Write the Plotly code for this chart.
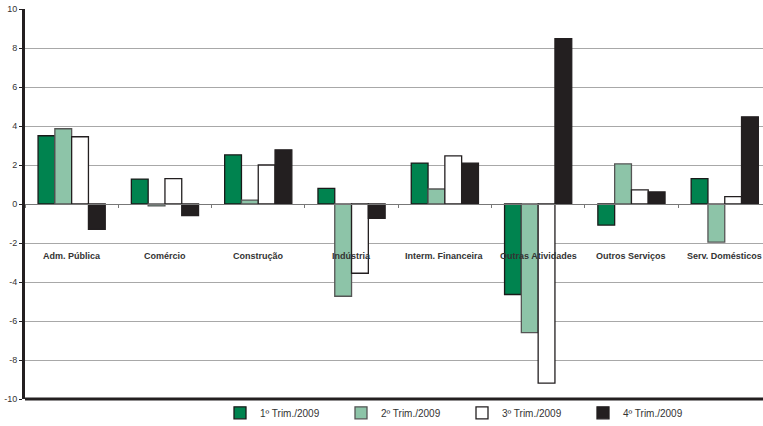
import plotly.graph_objects as go

categories = ["Adm. Pública", "Comércio", "Construção", "Indústria",
              "Interm. Financeira", "Outras Atividades", "Outros Serviços", "Serv. Domésticos"]
series_names = ["1º Trim./2009", "2º Trim./2009", "3º Trim./2009", "4º Trim./2009"]
q1 = [3.5, 1.28, 2.52, 0.8, 2.1, -4.64, -1.08, 1.3]
q2 = [3.86, -0.1, 0.2, -4.73, 0.77, -6.6, 2.06, -1.95]
q3 = [3.45, 1.3, 2.0, -3.55, 2.47, -9.19, 0.72, 0.38]
q4 = [-1.3, -0.6, 2.78, -0.73, 2.1, 8.48, 0.62, 4.47]
y_ticks = [-10, -8, -6, -4, -2, 0, 2, 4, 6, 8, 10]
label_y = -2.69

fills = ["#00834F", "#8DC4A8", "#FFFFFF", "#231F20"]
lines = ["#1a1a1a", "#555555", "#231F20", "#231F20"]

fig = go.Figure()
for name, vals, fc, lc in zip(series_names, [q1, q2, q3, q4], fills, lines):
    fig.add_trace(go.Bar(
        x=categories, y=vals, name=name,
        marker=dict(color=fc, line=dict(color=lc, width=1.3)),
    ))

for c in categories:
    fig.add_annotation(x=c, y=label_y, text="<b>" + c + "</b>", showarrow=False,
                       font=dict(family="Liberation Sans", size=9, color="#333333"),
                       xanchor="center", yanchor="middle")

# thick bottom axis line
fig.add_shape(type="line", xref="paper", yref="paper", x0=0, x1=1, y0=0, y1=0,
              line=dict(color="#231F20", width=3))

fig.update_layout(
    width=763, height=426,
    margin=dict(l=25, r=0, t=9, b=27, autoexpand=False),
    paper_bgcolor="white", plot_bgcolor="white",
    barmode="group", bargap=0.28, bargroupgap=0,
    showlegend=True,
    legend=dict(orientation="h", x=220 / 763, xref="container", xanchor="left",
                y=0.031, yref="container", yanchor="middle",
                font=dict(family="Liberation Sans Narrow, Liberation Sans", size=10, color="#333333"),
                entrywidth=76, entrywidthmode="pixels", itemwidth=30,
                bgcolor="rgba(0,0,0,0)"),
    font=dict(family="Liberation Sans", color="#333333"),
)
fig.update_xaxes(
    range=[-0.5, 7.41], showticklabels=False, anchor="free", position=0.5,
    showline=True, linecolor="#777777", linewidth=1,
    ticks="outside", tickson="boundaries", ticklen=3, tickcolor="#777777",
    showgrid=False, zeroline=False,
)
fig.update_yaxes(
    range=[-10, 10], tickvals=y_ticks, ticktext=[str(v) for v in y_ticks],
    showline=True, linecolor="#231F20", linewidth=3,
    ticks="outside", ticklen=3, tickcolor="#231F20",
    showgrid=True, gridcolor="#a8a8a8", gridwidth=1, zeroline=False,
    tickfont=dict(family="Liberation Sans", size=9, color="#333333"),
)
fig.write_html("out.html", config={"displayModeBar": False},
               post_script="document.body.style.margin='0';")
